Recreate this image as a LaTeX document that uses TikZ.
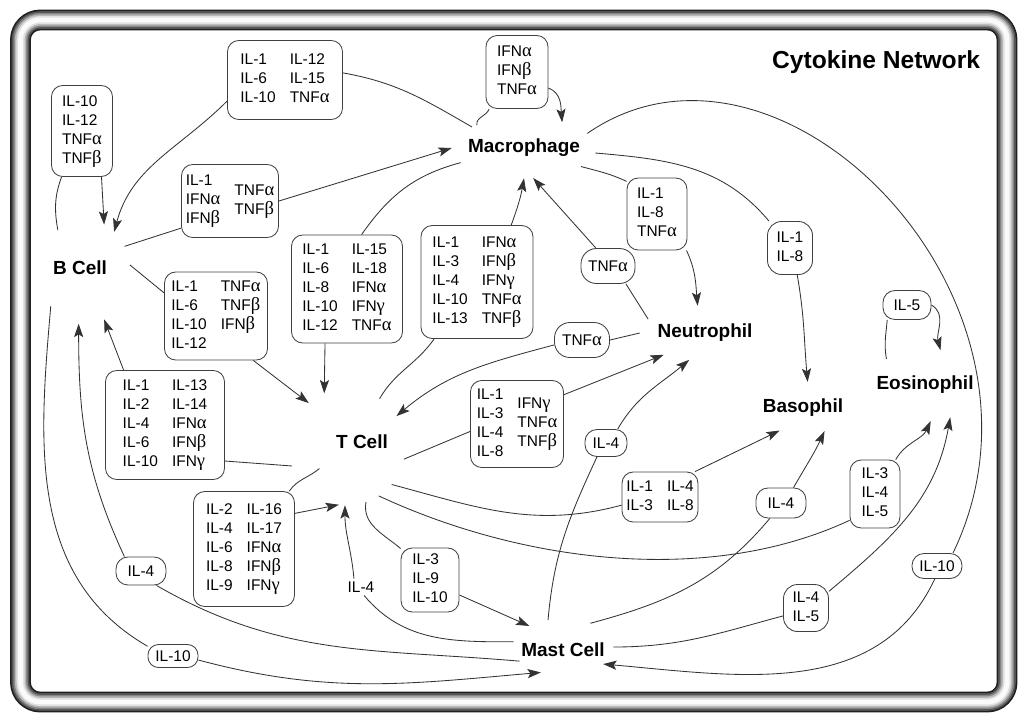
\documentclass[tikz,border=0pt]{standalone}
\usepackage{fontspec}
\setmainfont{Liberation Sans}
\newfontfamily\grkfont[Scale=1.2]{Liberation Serif}
\usetikzlibrary{shapes.geometric, arrows.meta, calc}

\newcommand\boxfont{\fontsize{11pt}{13.5pt}\selectfont}
\newcommand\cellfont{\fontsize{13.5pt}{15pt}\selectfont\bfseries}
\newcommand\titlefont{\fontsize{17.5pt}{20pt}\selectfont\bfseries}
\newcommand\TNFa{TNF{\grkfont α}}
\newcommand\TNFb{TNF{\grkfont β}}
\newcommand\IFNa{IFN{\grkfont α}}
\newcommand\IFNb{IFN{\grkfont β}}
\newcommand\IFNg{IFN{\grkfont γ}}
\newcommand\stack[1]{\begin{tabular}{@{}l@{}}#1\end{tabular}}
\newcommand\twocol[3][c]{\begin{tabular}[#1]{@{}l@{}}#2\end{tabular}\hspace{10pt}\begin{tabular}[#1]{@{}l@{}}#3\end{tabular}}

\tikzset{
  cell/.style={ellipse, inner sep=0pt},
  cellname/.style={font=\cellfont, inner sep=0pt},
  cbox/.style={draw=black!75, line width=0.6pt, rounded corners=8pt, fill=white,
    font=\boxfont, inner sep=2pt},
  pill/.style={cbox, rounded corners=8.5pt},
  wire/.style={draw=black!80, line width=0.6pt},
  arr/.style={wire, -{Stealth[length=9.5pt, width=6.5pt, inset=2pt]}},
  sz/.style 2 args={minimum width=#1*0.025cm, minimum height=#2*0.025cm},
}

\begin{document}
\begin{tikzpicture}[x=0.025cm, y=0.025cm]
\useasboundingbox (0,0) rectangle (1024,-719);

% frame
\foreach \w/\g in {0.52cm/88, 0.44cm/68, 0.36cm/48, 0.28cm/28, 0.2cm/12, 0.12cm/2}
  \draw[line width=\w, black!\g, rounded corners=14pt] (20.5,-20) rectangle (1007,-702);

\node[font=\titlefont, anchor=east] (title) at (985,-62) {Cytokine Network};

% cells
\node[cell, sz={144}{60}, label={[cellname]center:Macrophage}] (mac) at (524,-148) {};
\node[cell, sz={90}{104}, label={[cellname, xshift=-0.125cm, yshift=0.1cm]center:B Cell}] (bc) at (85,-272) {};
\node[cell, sz={116}{116}, label={[cellname, xshift=0.375cm, yshift=0.125cm]center:T Cell}] (tc) at (347,-447) {};
\node[cell, sz={120}{54}, label={[cellname, xshift=0.125cm]center:Neutrophil}] (ne) at (700,-333) {};
\node[cell, sz={90}{52}, label={[cellname]center:Basophil}] (ba) at (803,-408) {};
\node[cell, sz={110}{72}, label={[cellname]center:Eosinophil}] (eo) at (925,-385) {};
\node[cell, sz={100}{56}, label={[cellname, yshift=-0.075cm]center:Mast Cell}] (mc) at (563,-647) {};

% cytokine boxes
\node[cbox, sz={115}{79}] (tA) at (285,-80) {\twocol{IL-1\\IL-6\\IL-10}{IL-12\\IL-15\\\TNFa}};
\node[cbox, sz={61}{91}] (tB) at (82,-131) {\stack{IL-10\\IL-12\\\TNFa\\\TNFb}};
\node[cbox, sz={97}{73}] (tC) at (230,-201) {\twocol{IL-1\\\IFNa\\\IFNb}{\TNFa\\\TNFb}};
\node[cbox, sz={103}{88}] (tD) at (216,-316) {\twocol[t]{IL-1\\IL-6\\IL-10\\IL-12}{\TNFa\\\TNFb\\\IFNb}};
\node[cbox, sz={119}{109}] (tE) at (165,-425) {\twocol{IL-1\\IL-2\\IL-4\\IL-6\\IL-10}{IL-13\\IL-14\\\IFNa\\\IFNb\\\IFNg}};
\node[cbox, sz={111}{108}] (tF) at (347,-289) {\twocol{IL-1\\IL-6\\IL-8\\IL-10\\IL-12}{IL-15\\IL-18\\\IFNa\\\IFNg\\\TNFa}};
\node[cbox, sz={112}{113}] (tG) at (477,-282) {\twocol{IL-1\\IL-3\\IL-4\\IL-10\\IL-13}{\IFNa\\\IFNb\\\IFNg\\\TNFa\\\TNFb}};
\node[cbox, sz={62}{73}] (tIFN) at (517,-72) {\stack{\IFNa\\\IFNb\\\TNFa}};
\node[cbox, sz={60}{72}] (tH) at (657,-214) {\stack{IL-1\\IL-8\\\TNFa}};
\node[cbox, sz={93}{87}] (tI) at (517,-424) {\twocol{IL-1\\IL-3\\IL-4\\IL-8}{\IFNg\\\TNFa\\\TNFb}};
\node[cbox, sz={76}{50}] (tJ) at (660,-497) {\twocol{IL-1\\IL-3}{IL-4\\IL-8}};
\node[cbox, sz={50}{68}] (tK) at (875,-494) {\stack{IL-3\\IL-4\\IL-5}};
\node[cbox, sz={101}{115}] (tL) at (244,-549) {\twocol{IL-2\\IL-4\\IL-6\\IL-8\\IL-9}{IL-16\\IL-17\\\IFNa\\\IFNb\\\IFNg}};
\node[cbox, sz={58}{64}] (tM) at (430,-580) {\stack{IL-3\\IL-9\\IL-10}};

\node[pill, sz={54}{35}, rounded corners=11pt] (oTNF1) at (608,-266) {\TNFa};
\node[pill, sz={55}{35}, rounded corners=11pt] (oTNF2) at (582,-340) {\TNFa};
\node[pill, sz={42}{27}] (oIL4n) at (606,-443) {IL-4};
\node[pill, sz={50}{30}] (oIL4b) at (781,-503) {IL-4};
\node[pill, sz={45}{47}, rounded corners=10pt] (oIL45) at (806,-608) {\stack{IL-4\\IL-5}};
\node[pill, sz={50}{25}] (oIL10m) at (937,-566) {IL-10};
\node[pill, sz={45}{53}, rounded corners=10pt] (oIL18) at (790,-248) {\stack{IL-1\\IL-8}};
\node[pill, sz={48}{29}] (oIL5) at (907,-305) {IL-5};
\node[pill, sz={50}{28}] (oIL4bc) at (141,-571) {IL-4};
\node[pill, sz={50}{23}, rounded corners=7.5pt] (oIL10bc) at (173,-656) {IL-10};
\node[font=\boxfont, inner sep=2pt] (lIL4) at (361,-587) {IL-4};

% B cell
\draw[wire] (bc.123) to[out=100, in=-110] (tB.-114);
\draw[arr] (tB.-67) -- (bc.68);
\draw[wire] (bc.33) -- (tC.209);
\draw[arr] (tC.east) -- (mac.180);
\draw[wire] (bc.9) -- (tD.156);
\draw[arr] (tD.-50) -- (tc.131);
\draw[wire] (bc.-135) to[out=-95, in=150] (oIL10bc.159);
\draw[arr] (oIL10bc.-9) to[out=-15, in=-175] (mc.-131);

% macrophage
\draw[wire] (mac.158) to[out=150, in=-10] (tA.7);
\draw[arr] (tA.200) to[out=-135, in=75] (bc.54);
\draw[wire] (mac.154) to[out=100, in=-110] (tIFN.-127);
\draw[arr] (tIFN.-27) to[out=-20, in=95] (mac.34);
\draw[wire] (mac.193) to[out=195, in=55] (tF.75);
\draw[arr] (tF.-112) -- (tc.113);
\draw[wire] (mac.-18) to[out=-15, in=155] (tH.133);
\draw[arr] (tH.-51) to[out=-65, in=95] (ne.95);
\draw[wire] (mac.-4) to[out=-5, in=130] (oIL18.128);
\draw[arr] (oIL18.-75) to[out=-80, in=95] (ba.80);
\draw[wire] (mac.13) .. controls (780,0) and (1075,-300) .. (oIL10m.39);
\draw[arr] (oIL10m.-100) to[out=-115, in=-5] (mc.-23);

% T cell
\draw[wire] (tc.56) to[out=60, in=-125] (tG.-127);
\draw[arr] (tG.59) to[out=70, in=-100] (mac.-90);
\draw[wire] (tc.-161) -- (tE.-31);
\draw[arr] (tE.127) -- (bc.-68);
\draw[wire] (tc.-12) -- (tI.189);
\draw[arr] (tI.32) -- (ne.-149);
\draw[wire] (tc.-40) to[out=-15, in=195] (tJ.192);
\draw[arr] (tJ.36) -- (ba.-136);
\draw[wire] (tc.-57) to[out=-25, in=-155, looseness=0.85] (tK.-134);
\draw[arr] (tK.59) to[out=60, in=-115] (eo.-81);
\draw[wire] (tc.-71) to[out=-100, in=140] (tM.133);
\draw[arr] (tM.-27) -- (mc.148);
\draw[wire] ($(tc.center)!.6!(tc.-142)$) to[out=-140, in=55] (tL.52);
\draw[arr] (tL.35) -- (tc.-98);

% neutrophil
\draw[wire] (ne.165) -- (oTNF1.-45);
\draw[arr] (oTNF1.124) -- (mac.-73);
\draw[wire] (ne.180) -- (oTNF2.east);
\draw[arr] (oTNF2.190) to[out=195, in=40] (tc.32);

% mast cell
\draw[wire] (mc.119) to[out=85, in=-115] (oIL4n.-123);
\draw[arr] (oIL4n.50) to[out=60, in=-140] (ne.-112);
\draw[wire] (mc.41) to[out=15, in=-130] (oIL4b.-126);
\draw[arr] (oIL4b.51) to[out=60, in=-115] (ba.-47);
\draw[wire] (mc.0) to[out=0, in=195] (oIL45.199);
\draw[arr] (oIL45.36) to[out=40, in=-100] (eo.-52);
\draw[wire] (mc.174) to[out=180, in=-50] (lIL4.-70);
\draw[arr] (lIL4.130) to[out=95, in=-90] (tc.-92);
\draw[wire] (mc.-162) to[out=175, in=-30] (oIL4bc.-43);
\draw[arr] (oIL4bc.139) to[out=115, in=-90] (bc.-97);

% eosinophil
\draw[wire] (eo.146) to[out=100, in=-95] (oIL5.-143);
\draw[arr] (oIL5.east) to[out=-30, in=105] (eo.66);
\end{tikzpicture}
\end{document}
